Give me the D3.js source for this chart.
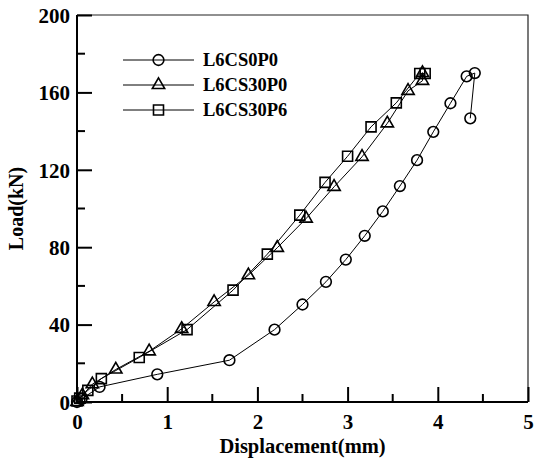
<!DOCTYPE html>
<html>
<head>
<meta charset="utf-8">
<script src="https://cdn.jsdelivr.net/npm/d3@7/dist/d3.min.js"></script>
<style>
  html, body { margin: 0; padding: 0; background: #fff; }
  svg { display: block; }
  text { font-family: "Liberation Serif", "Times New Roman", serif; font-weight: bold; fill: #000; }
</style>
</head>
<body>
<svg id="chart" width="540" height="460"></svg>
<script>
// Load–displacement curves of the three specimens
const seriesNames = ["L6CS0P0", "L6CS30P0", "L6CS30P6"];
const seriesMarkers = ["circle", "triangle", "square"];

const dispCS0P0 = [0, 0.05, 0.25, 0.89, 1.69, 2.19, 2.50, 2.76, 2.98, 3.19, 3.39, 3.58, 3.77, 3.95, 4.14, 4.32, 4.41, 4.36];
const loadCS0P0 = [0, 1.5, 7.8, 14.3, 21.6, 37.4, 50.4, 62.1, 73.6, 85.9, 98.5, 111.6, 125.0, 139.6, 154.4, 168.3, 170.0, 146.6];

const dispCS30P0 = [0, 0.06, 0.17, 0.43, 0.80, 1.16, 1.52, 1.90, 2.22, 2.54, 2.85, 3.16, 3.44, 3.67, 3.83, 3.83];
const loadCS30P0 = [0, 3.5, 9.2, 16.8, 26.2, 37.8, 51.7, 65.5, 79.7, 94.8, 111.2, 126.7, 144.0, 160.8, 166.0, 170.0];

const dispCS30P6 = [0, 0.03, 0.12, 0.27, 0.69, 1.22, 1.73, 2.11, 2.47, 2.75, 3.00, 3.26, 3.54, 3.80, 3.86];
const loadCS30P6 = [0.5, 2.0, 6.0, 12.1, 23.0, 37.4, 57.8, 76.4, 96.6, 113.5, 127.0, 142.2, 154.6, 169.8, 169.8];

const xTickValues = [0, 1, 2, 3, 4, 5];
const yTickValues = [0, 40, 80, 120, 160, 200];

const series = [
  { name: seriesNames[0], marker: seriesMarkers[0], x: dispCS0P0, y: loadCS0P0 },
  { name: seriesNames[1], marker: seriesMarkers[1], x: dispCS30P0, y: loadCS30P0 },
  { name: seriesNames[2], marker: seriesMarkers[2], x: dispCS30P6, y: loadCS30P6 }
];

const svg = d3.select("#chart");
const plot = { left: 77, right: 528, top: 15, bottom: 402 };

const x = d3.scaleLinear().domain([0, 5]).range([plot.left, plot.right]);
const y = d3.scaleLinear().domain([0, 200]).range([plot.bottom, plot.top]);

// Frame: thin top/right, heavy left/bottom
svg.append("path")
  .attr("d", `M${plot.left},${plot.top}H${plot.right}V${plot.bottom}`)
  .attr("fill", "none").attr("stroke", "#222").attr("stroke-width", 1.2);

// Minor ticks (inside)
const xMinor = d3.range(0.5, 5, 1);
const yMinor = d3.range(20, 200, 40);

const xAxis = d3.axisBottom(x).tickValues(xTickValues).tickSize(0).tickPadding(0).tickFormat(d3.format("d"));
const yAxis = d3.axisLeft(y).tickValues(yTickValues).tickSize(0).tickPadding(0).tickFormat(d3.format("d"));

const gx = svg.append("g").attr("transform", `translate(0,${plot.bottom})`).call(xAxis);
gx.select(".domain").remove();
gx.selectAll(".tick text").attr("y", 27).attr("dy", null)
  .style("font-size", "21px").style("font-family", "Liberation Serif, serif").style("font-weight", "bold");
gx.selectAll(".tick").append("line").attr("y1", 0).attr("y2", -15).attr("stroke", "#000").attr("stroke-width", 2);
gx.selectAll(".minor").data(xMinor).enter().append("line").attr("class", "minor")
  .attr("x1", d => x(d)).attr("x2", d => x(d)).attr("y1", 0).attr("y2", -8)
  .attr("stroke", "#000").attr("stroke-width", 2);

const gy = svg.append("g").attr("transform", `translate(${plot.left},0)`).call(yAxis);
gy.select(".domain").remove();
gy.selectAll(".tick text").attr("x", -7).attr("dy", "0.35em")
  .style("font-size", "21px").style("font-family", "Liberation Serif, serif").style("font-weight", "bold");
gy.selectAll(".tick").append("line").attr("x1", 0).attr("x2", 15).attr("stroke", "#000").attr("stroke-width", 2);
gy.selectAll(".minor").data(yMinor).enter().append("line").attr("class", "minor")
  .attr("y1", d => y(d)).attr("y2", d => y(d)).attr("x1", 0).attr("x2", 8)
  .attr("stroke", "#000").attr("stroke-width", 2);

// Heavy left and bottom axis lines
svg.append("path")
  .attr("d", `M${plot.left},${plot.top}V${plot.bottom}H${plot.right}`)
  .attr("fill", "none").attr("stroke", "#000").attr("stroke-width", 2);

// Axis titles
svg.append("text").attr("x", (plot.left + plot.right) / 2).attr("y", 453)
  .attr("text-anchor", "middle").style("font-size", "20.5px").text("Displacement(mm)");
svg.append("text").attr("transform", `translate(23,${(plot.top + plot.bottom) / 2}) rotate(-90)`)
  .attr("text-anchor", "middle").style("font-size", "20px").text("Load(kN)");

// Marker drawing
const symbolOf = { circle: d3.symbolCircle, triangle: d3.symbolTriangle, square: d3.symbolSquare };
const sizeOf = { circle: 90, triangle: 66, square: 100 };
function drawMarker(g, kind, cx, cy) {
  g.append("path")
    .attr("d", d3.symbol().type(symbolOf[kind]).size(sizeOf[kind])())
    .attr("transform", `translate(${cx},${cy})`)
    .attr("fill", "none").attr("stroke", "#000").attr("stroke-width", 1.6);
}

const line = d3.line().x(d => x(d[0])).y(d => y(d[1]));

series.forEach(s => {
  const pts = s.x.map((v, i) => [v, s.y[i]]);
  const g = svg.append("g");
  g.append("path").datum(pts).attr("d", line)
    .attr("fill", "none").attr("stroke", "#000").attr("stroke-width", 1);
  pts.forEach(p => drawMarker(g, s.marker, x(p[0]), y(p[1])));
});

// Legend
const legendY = [60, 85, 110];
series.forEach((s, i) => {
  const g = svg.append("g");
  g.append("line").attr("x1", 123).attr("x2", 194).attr("y1", legendY[i]).attr("y2", legendY[i])
    .attr("stroke", "#000").attr("stroke-width", 1);
  drawMarker(g, s.marker, 158.5, legendY[i]);
  g.append("text").attr("x", 203).attr("y", legendY[i]).attr("dy", "0.35em")
    .style("font-size", "18.5px").text(s.name);
});
</script>
</body>
</html>
